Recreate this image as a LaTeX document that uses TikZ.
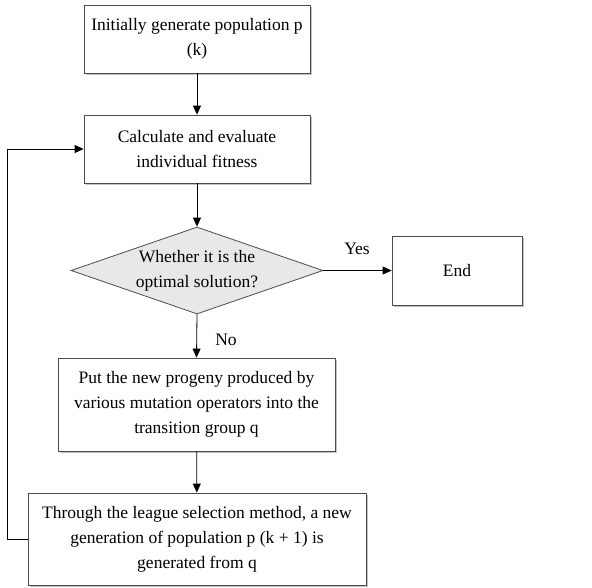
\documentclass[tikz,border=0pt]{standalone}
\usepackage{fontspec}
\setmainfont{Liberation Serif}
\usetikzlibrary{shapes.geometric,arrows.meta,shadows}
\begin{document}
\begin{tikzpicture}[x=1pt,y=1pt,
  txt/.style={font=\fontsize{17.5}{25}\selectfont},
  box/.style={txt, draw=black!70, line width=0.8pt, fill=white, align=center, inner sep=0pt,
    drop shadow={shadow xshift=1.5pt, shadow yshift=-1.5pt, fill=black!40, opacity=0.6}},
  dec/.style={shape=diamond, draw=black!70, line width=0.8pt, fill=black!9, inner sep=0pt},
  arr/.style={line width=0.8pt, -{Triangle[length=9pt,width=8pt]}}
]
\useasboundingbox (0,0) rectangle (592,-587);
\node[box, minimum width=226pt, minimum height=68pt] (b1) at (197,-39) {Initially generate population p\\(k)};
\node[box, minimum width=226pt, minimum height=68pt] (b2) at (197,-149) {Calculate and evaluate\\individual fitness};
\node[dec, minimum width=252pt, minimum height=87pt] (d) at (197,-270.5) {};
\node[txt, align=center] (dt) at (197,-271) {Whether it is the\\optimal solution?};
\node[box, minimum width=130pt, minimum height=69pt] (e) at (457,-270.5) {End};
\node[box, minimum width=277pt, minimum height=93pt] (b3) at (196.5,-404.5) {Put the new progeny produced by\\various mutation operators into the\\transition group q};
\node[box, minimum width=338pt, minimum height=92pt] (b4) at (197,-539) {Through the league selection method, a new\\generation of population p (k + 1) is\\generated from q};
\node[txt] (yes) at (357,-249) {Yes};
\node[txt] (no) at (226,-340) {No};
\coordinate (lp) at (7,-539);
\draw[arr] (b1) -- (b2);
\draw[arr] (b2) -- (d);
\draw[arr] (d.east) -- (e.west);
\draw[arr] (d.south) -- (b3.north);
\draw[arr] (b3) -- (b4);
\draw[arr] (b4.west) -- (lp) |- (b2.west);
\end{tikzpicture}
\end{document}
